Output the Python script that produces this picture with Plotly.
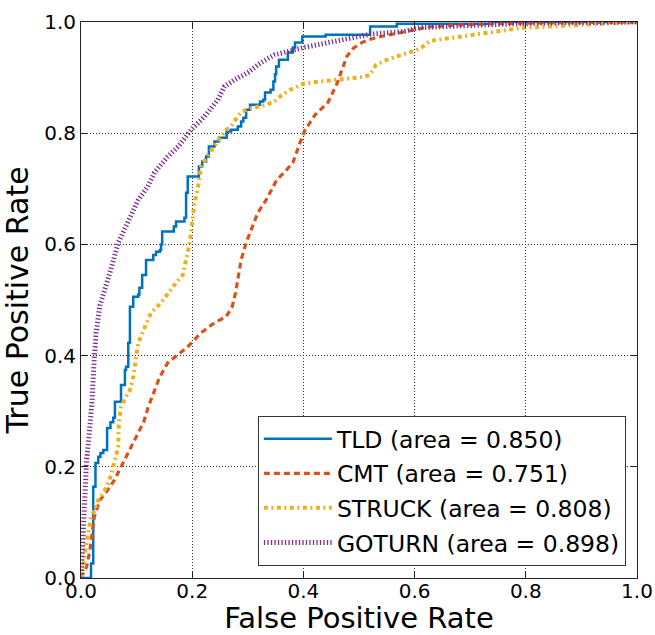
import plotly.graph_objects as go

# ---- data ----
tld_fpr = [0.0, 0.018, 0.022, 0.026, 0.031, 0.035, 0.040, 0.047, 0.053, 0.058, 0.061, 0.072,
           0.079, 0.081, 0.085, 0.088, 0.094, 0.103, 0.105, 0.110, 0.117, 0.130, 0.135, 0.142,
           0.144, 0.146, 0.167, 0.171, 0.186, 0.189, 0.192, 0.212, 0.218, 0.225, 0.230, 0.240,
           0.248, 0.262, 0.270, 0.282, 0.288, 0.292, 0.297, 0.304, 0.322, 0.328, 0.331, 0.341,
           0.346, 0.349, 0.351, 0.356, 0.372, 0.381, 0.385, 0.398, 0.440, 0.520, 0.568, 0.740, 1.0]
tld_tpr = [0.0, 0.026, 0.164, 0.207, 0.218, 0.225, 0.230, 0.270, 0.280, 0.288, 0.317, 0.347,
           0.374, 0.380, 0.423, 0.488, 0.506, 0.510, 0.522, 0.545, 0.572, 0.581, 0.587, 0.590,
           0.600, 0.623, 0.632, 0.641, 0.648, 0.693, 0.722, 0.740, 0.749, 0.758, 0.776, 0.785,
           0.792, 0.803, 0.806, 0.812, 0.821, 0.828, 0.842, 0.851, 0.857, 0.860, 0.873, 0.878,
           0.893, 0.906, 0.920, 0.932, 0.945, 0.954, 0.963, 0.974, 0.977, 0.992, 0.997, 1.0, 1.0]

cmt_fpr = [0.0, 0.010, 0.016, 0.020, 0.024, 0.034, 0.048, 0.060, 0.072, 0.086, 0.100, 0.113,
           0.121, 0.130, 0.141, 0.156, 0.174, 0.192, 0.216, 0.240, 0.261, 0.272, 0.278, 0.282,
           0.288, 0.297, 0.306, 0.318, 0.333, 0.352, 0.367, 0.381, 0.394, 0.403, 0.421, 0.444,
           0.460, 0.469, 0.478, 0.490, 0.505, 0.520, 0.540, 0.570, 0.600, 0.625, 0.680, 0.790, 1.0]
cmt_tpr = [0.0, 0.020, 0.050, 0.085, 0.110, 0.140, 0.158, 0.176, 0.200, 0.225, 0.255, 0.281,
           0.308, 0.330, 0.360, 0.387, 0.401, 0.416, 0.441, 0.459, 0.470, 0.488, 0.513, 0.536,
           0.572, 0.603, 0.626, 0.657, 0.680, 0.716, 0.731, 0.747, 0.783, 0.806, 0.833, 0.855,
           0.888, 0.914, 0.938, 0.953, 0.963, 0.969, 0.974, 0.980, 0.986, 0.991, 0.995, 0.998, 1.0]

struck_fpr = [0.0, 0.002, 0.007, 0.013, 0.018, 0.025, 0.031, 0.040, 0.048, 0.054, 0.061, 0.067,
              0.068, 0.072, 0.081, 0.088, 0.094, 0.099, 0.103, 0.115, 0.126, 0.144, 0.160, 0.171,
              0.183, 0.189, 0.195, 0.200, 0.204, 0.210, 0.216, 0.228, 0.240, 0.252, 0.261, 0.270,
              0.279, 0.288, 0.306, 0.330, 0.348, 0.358, 0.376, 0.400, 0.430, 0.460, 0.507, 0.520,
              0.530, 0.550, 0.580, 0.610, 0.628, 0.669, 0.720, 0.754, 0.790, 0.880, 0.940, 1.0]
struck_tpr = [0.0, 0.005, 0.045, 0.086, 0.110, 0.122, 0.140, 0.153, 0.168, 0.185, 0.212, 0.236,
              0.279, 0.308, 0.326, 0.338, 0.362, 0.398, 0.423, 0.452, 0.477, 0.495, 0.518, 0.531,
              0.545, 0.572, 0.600, 0.640, 0.675, 0.700, 0.740, 0.760, 0.778, 0.794, 0.806, 0.812,
              0.826, 0.838, 0.845, 0.850, 0.857, 0.866, 0.878, 0.889, 0.893, 0.896, 0.901, 0.905,
              0.922, 0.932, 0.942, 0.952, 0.966, 0.972, 0.978, 0.984, 0.989, 0.994, 0.997, 1.0]

goturn_fpr = [0.0, 0.002, 0.004, 0.006, 0.010, 0.014, 0.017, 0.020, 0.023, 0.027, 0.034, 0.042,
              0.052, 0.067, 0.085, 0.103, 0.120, 0.132, 0.156, 0.175, 0.198, 0.222, 0.246, 0.258,
              0.276, 0.300, 0.324, 0.348, 0.400, 0.460, 0.520, 0.580, 0.610, 0.730, 0.820, 1.0]
goturn_tpr = [0.0, 0.040, 0.100, 0.160, 0.212, 0.250, 0.284, 0.320, 0.380, 0.440, 0.490, 0.520,
              0.549, 0.603, 0.644, 0.680, 0.704, 0.729, 0.758, 0.776, 0.806, 0.830, 0.860, 0.884,
              0.896, 0.909, 0.927, 0.941, 0.954, 0.966, 0.978, 0.983, 0.990, 0.995, 0.998, 1.0]

names = ["TLD (area = 0.850)", "CMT (area = 0.751)", "STRUCK (area = 0.808)", "GOTURN (area = 0.898)"]
tick_vals = [0.0, 0.2, 0.4, 0.6, 0.8, 1.0]
tick_text = ["0.0", "0.2", "0.4", "0.6", "0.8", "1.0"]

FONT = "DejaVu Sans"

fig = go.Figure()
fig.add_trace(go.Scatter(x=tld_fpr, y=tld_tpr, mode="lines", name=names[0], legendgroup="a",
                         line=dict(color="#0072BD", width=2.5, shape="hv")))
fig.add_trace(go.Scatter(x=cmt_fpr, y=cmt_tpr, mode="lines", name=names[1], legendgroup="b",
                         line=dict(color="#D95319", width=3.2, dash="6px,4px")))
fig.add_trace(go.Scatter(x=struck_fpr, y=struck_tpr, mode="lines", name=names[2], legendgroup="c",
                         line=dict(color="#EDB120", width=4, dash="4px,3.5px,2px,3.5px")))
fig.add_trace(go.Scatter(x=goturn_fpr, y=goturn_tpr, mode="lines", name=names[3], legendgroup="d",
                         line=dict(color="#7E2F8E", width=5, dash="1.3px,2.2px")))

axis_common = dict(
    range=[0, 1], tickvals=tick_vals, ticktext=tick_text, automargin=False,
    showline=True, linecolor="#222", linewidth=1, mirror="ticks",
    ticks="inside", ticklen=6, tickcolor="#222", tickwidth=1,
    showgrid=True, gridcolor="#333", gridwidth=1, griddash="1px,2px",
    zeroline=False, tickfont=dict(family=FONT, size=20, color="black"),
)

fig.update_xaxes(**axis_common, ticklabelstandoff=-5,
                 title=dict(text="False Positive Rate", font=dict(family=FONT, size=29, color="black")))
fig.update_yaxes(**axis_common,
                 title=dict(text="True Positive Rate", font=dict(family=FONT, size=30, color="black")))

fig.update_layout(
    width=655, height=635,
    margin=dict(l=81, r=18, t=22, b=57),
    paper_bgcolor="white", plot_bgcolor="white",
    font=dict(family=FONT, color="black"),
    legend=dict(x=0.98, xanchor="right", y=0.0216, yanchor="bottom",
                bgcolor="white", bordercolor="#333", borderwidth=1,
                font=dict(family=FONT, size=23.5, color="black"),
                tracegroupgap=1, itemwidth=68),
)

fig.write_html("out.html")
